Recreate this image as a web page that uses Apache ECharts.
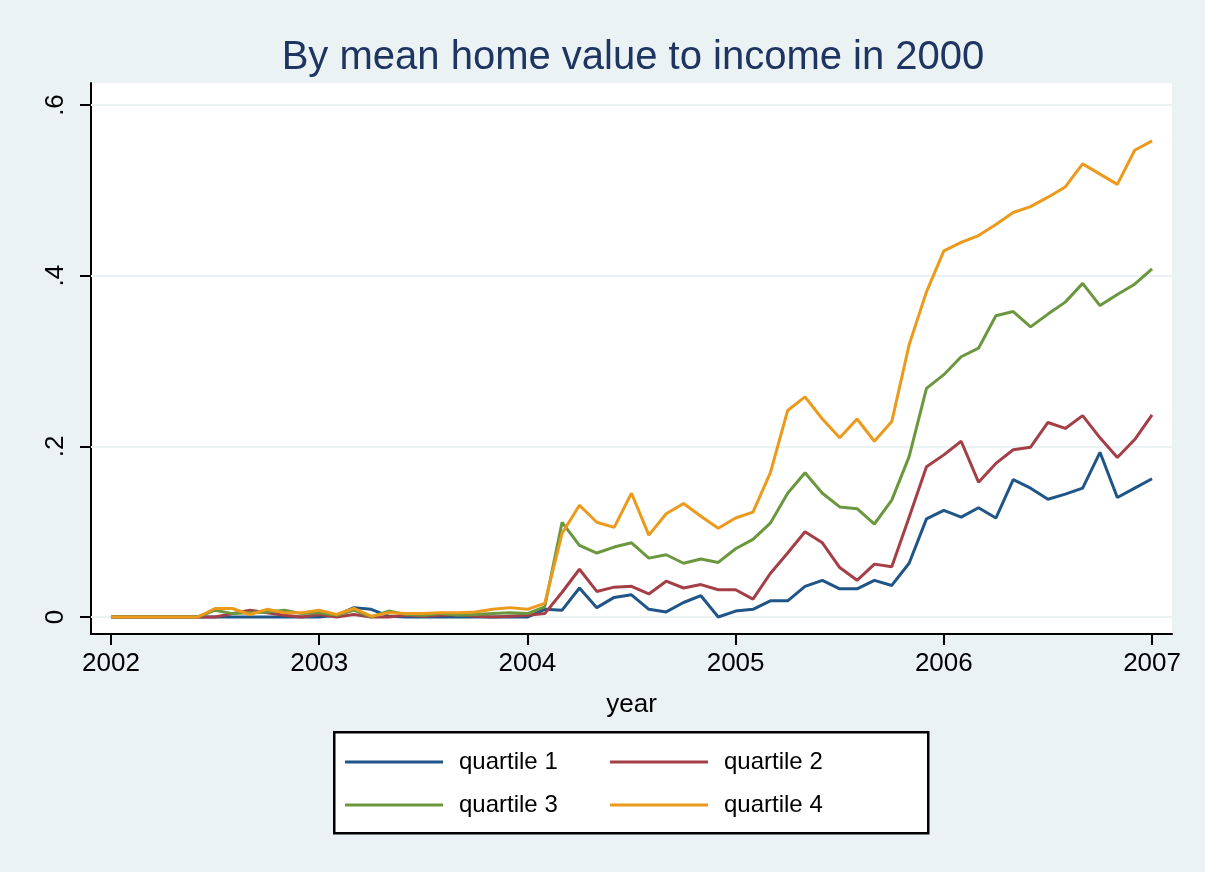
<!DOCTYPE html>
<html>
<head>
<meta charset="utf-8">
<script src="https://cdn.jsdelivr.net/npm/echarts@6/dist/echarts.min.js"></script>
<style>
  html, body { margin: 0; padding: 0; background: #EAF2F3; }
  #chart { width: 1205px; height: 872px; }
</style>
</head>
<body>
<div id="chart"></div>
<script>
// monthly, Jan 2002 .. Jan 2007
var startYear = 2002;
var yearTicks = [2002, 2003, 2004, 2005, 2006, 2007];
var yTicks = [0, 0.2, 0.4, 0.6];
var seriesNames = ['quartile 1', 'quartile 2', 'quartile 3', 'quartile 4'];

var q1 = [0, 0, 0, 0, 0, 0, 0, 0, 0, 0, 0, 0, 0, 0.002, 0.011, 0.009, 0.001, 0, 0, 0, 0, 0, 0, 0, 0,
  0.009, 0.008, 0.034, 0.011, 0.023, 0.026, 0.009, 0.006, 0.017, 0.025, 0.000, 0.007, 0.009,
  0.019, 0.019, 0.036, 0.043, 0.033, 0.033, 0.043, 0.037, 0.063, 0.115, 0.125, 0.117, 0.128,
  0.116, 0.161, 0.151, 0.138, 0.144, 0.151, 0.193, 0.140, 0.151, 0.162];
var q2 = [0, 0, 0, 0, 0, 0, 0, 0.004, 0.008, 0.005, 0.002, 0, 0.003, 0, 0.003, 0, 0, 0.002, 0.001,
  0.002, 0.003, 0.001, 0, 0.001, 0.002, 0.004, 0.029, 0.056, 0.030, 0.035, 0.036, 0.027, 0.042,
  0.034, 0.038, 0.032, 0.032, 0.021, 0.051, 0.075, 0.100, 0.087, 0.058, 0.043, 0.062, 0.059,
  0.117, 0.176, 0.190, 0.206, 0.158, 0.180, 0.196, 0.199, 0.228, 0.221, 0.236, 0.210, 0.187,
  0.208, 0.237];
var q3 = [0, 0, 0, 0, 0, 0, 0.008, 0.004, 0.005, 0.006, 0.008, 0.004, 0.005, 0.002, 0.008, 0,
  0.007, 0.003, 0.002, 0.004, 0.002, 0.003, 0.004, 0.005, 0.004, 0.012, 0.111, 0.084, 0.075,
  0.082, 0.087, 0.069, 0.073, 0.063, 0.068, 0.064, 0.080, 0.091, 0.110, 0.145, 0.169, 0.145,
  0.129, 0.127, 0.109, 0.137, 0.188, 0.268, 0.284, 0.305, 0.315, 0.353, 0.358, 0.340, 0.355,
  0.369, 0.391, 0.365, 0.378, 0.390, 0.408];
var q4 = [0, 0, 0, 0, 0, 0, 0.010, 0.010, 0.003, 0.009, 0.005, 0.005, 0.008, 0.003, 0.010, 0.001,
  0.005, 0.004, 0.004, 0.005, 0.005, 0.006, 0.009, 0.011, 0.009, 0.016, 0.098, 0.131, 0.111,
  0.105, 0.145, 0.096, 0.121, 0.133, 0.118, 0.104, 0.116, 0.123, 0.169, 0.242, 0.258, 0.232,
  0.210, 0.232, 0.206, 0.229, 0.319, 0.381, 0.429, 0.439, 0.447, 0.460, 0.474, 0.481, 0.492,
  0.504, 0.531, 0.519, 0.507, 0.547, 0.558];

var colors = ['#1F5587', '#A43F47', '#6B973F', '#EB9A1C'];
var font = "'Liberation Sans', Arial, Helvetica, sans-serif";

function toPairs(arr) {
    var out = [];
    for (var i = 0; i < arr.length; i++) {
        out.push([startYear + i / 12, arr[i]]);
    }
    return out;
}

var myChart = echarts.init(document.getElementById('chart'));

var allSeries = [q1, q2, q3, q4].map(function (arr, k) {
    var s = {
        name: seriesNames[k],
        type: 'line',
        data: toPairs(arr),
        symbol: 'none',
        lineStyle: { color: colors[k], width: 3 },
        itemStyle: { color: colors[k] },
        z: 3 + k
    };
    if (k === 0) {
        // light horizontal grid lines at the y ticks
        s.markLine = {
            silent: true,
            symbol: 'none',
            label: { show: false },
            lineStyle: { color: '#EAF2F3', width: 2, type: 'solid' },
            data: yTicks.map(function (v) { return { yAxis: v }; }),
            z: 1
        };
    }
    return s;
});

function legendBlock(names, left) {
    return {
        data: names,
        orient: 'vertical',
        left: left,
        top: 750,
        padding: 0,
        icon: 'rect',
        itemWidth: 98,
        itemHeight: 3,
        itemGap: 19,
        textStyle: { color: '#000', fontSize: 24, lineHeight: 24, fontFamily: font, padding: [0, 0, 0, 11] }
    };
}

var option = {
    backgroundColor: '#EAF2F3',
    animation: false,
    textStyle: { fontFamily: font },
    title: {
        text: 'By mean home value to income in 2000',
        left: 628,
        textAlign: 'center',
        top: 33,
        textStyle: { color: '#1E3461', fontSize: 40, fontWeight: 'normal', fontFamily: font }
    },
    grid: {
        left: 91,
        right: 33,
        top: 83,
        bottom: 238,
        show: true,
        backgroundColor: '#ffffff',
        borderWidth: 0
    },
    xAxis: {
        type: 'value',
        min: 2002 - 1.15 / 12,
        max: 2007 + 1.15 / 12,
        name: 'year',
        nameLocation: 'middle',
        nameGap: 58,
        nameTextStyle: { color: '#000', fontSize: 26, fontFamily: font },
        axisLine: { onZero: false, lineStyle: { color: '#000', width: 2 } },
        axisTick: { show: true, length: 11, customValues: yearTicks, lineStyle: { color: '#000', width: 2 } },
        axisLabel: { customValues: yearTicks, color: '#000', fontSize: 26, margin: 17, fontFamily: font,
            formatter: function (v) { return String(Math.round(v)); } },
        splitLine: { show: false }
    },
    yAxis: {
        type: 'value',
        min: -0.0199,
        max: 0.6258,
        axisLine: { show: true, onZero: false, lineStyle: { color: '#000', width: 2 } },
        axisTick: { show: true, length: 11, customValues: yTicks, lineStyle: { color: '#000', width: 2 } },
        axisLabel: { customValues: yTicks, color: '#000', fontSize: 26, rotate: 90, margin: 22, fontFamily: font,
            formatter: function (v) {
                if (Math.abs(v) < 1e-9) return '0';
                return String(+v.toFixed(1)).replace(/^0/, '');
            } },
        splitLine: { show: false }
    },
    legend: [
        legendBlock(['quartile 1', 'quartile 3'], 345),
        legendBlock(['quartile 2', 'quartile 4'], 610)
    ],
    graphic: [
        {
            type: 'rect',
            left: 333,
            top: 731,
            shape: { width: 594, height: 101 },
            style: { fill: '#ffffff', stroke: '#000', lineWidth: 2.5 },
            z: -1
        }
    ],
    series: allSeries
};

myChart.setOption(option, true);
</script>
</body>
</html>
